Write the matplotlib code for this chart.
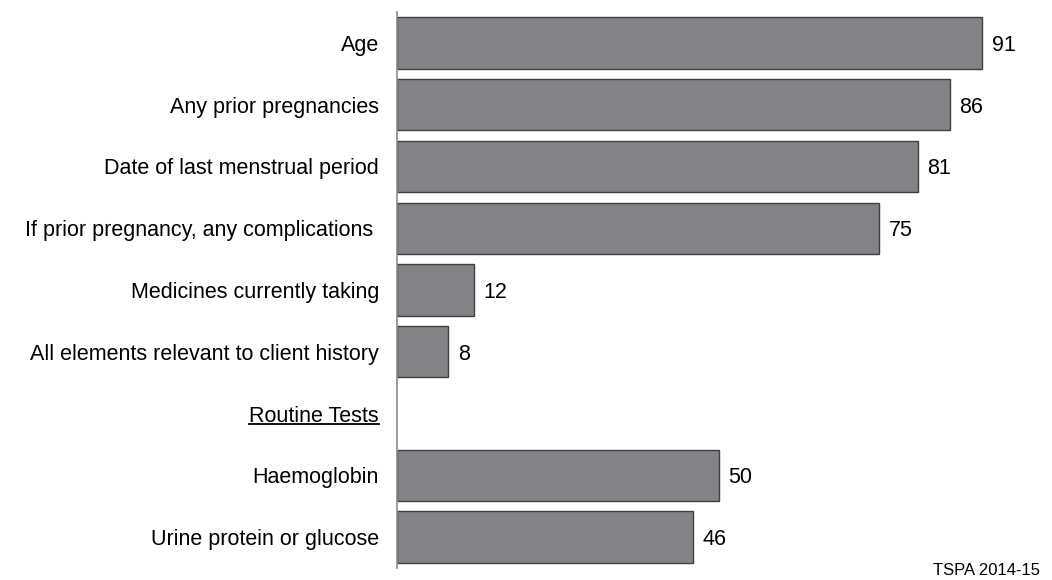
import numpy as np
import matplotlib
matplotlib.use('Agg')
import matplotlib.pyplot as plt
from matplotlib.lines import Line2D

plt.rcParams['font.family'] = ['Liberation Sans', 'DejaVu Sans']

# Data
categories = ['Age', 'Any prior pregnancies', 'Date of last menstrual period',
              'If prior pregnancy, any complications ', 'Medicines currently taking',
              'All elements relevant to client history', 'Routine Tests',
              'Haemoglobin', 'Urine protein or glucose']
values = [91, 86, 81, 75, 12, 8, np.nan, 50, 46]
header_label = 'Routine Tests'
source_text = 'TSPA 2014-15'

fig = plt.figure(figsize=(10.52, 5.8), dpi=100)
ax = fig.add_axes([397 / 1052, 12 / 580, 643 / 1052, 556 / 580])

y = np.arange(len(categories))
vals = np.array(values, dtype=float)
mask = ~np.isnan(vals)
ax.barh(y[mask], vals[mask], height=0.83, color='#838387',
        edgecolor='#3f3f42', linewidth=1.0)

for yi, v in zip(y[mask], vals[mask]):
    ax.text(v + 1.5, yi, f'{v:.0f}', va='center_baseline', ha='left',
            fontsize=15.5, color='black')

ax.set_xlim(0, 100)
ax.set_ylim(len(categories) - 0.5, -0.5)
ax.set_yticks(y)
ax.set_yticklabels(categories, fontsize=15.5)
ax.tick_params(axis='y', length=0, pad=13)
ax.set_xticks([])
for s in ['top', 'right', 'bottom']:
    ax.spines[s].set_visible(False)
ax.spines['left'].set_color('#8c8c8c')
ax.spines['left'].set_linewidth(1.2)

fig.text(1040 / 1052, 2 / 580, source_text, ha='right', va='bottom', fontsize=12)

# underline the section header
fig.canvas.draw()
renderer = fig.canvas.get_renderer()
for lbl in ax.get_yticklabels():
    if lbl.get_text() == header_label:
        bb = lbl.get_window_extent(renderer).transformed(fig.transFigure.inverted())
        yl = bb.y0 + 0.004
        fig.add_artist(Line2D([bb.x0, bb.x1], [yl, yl], transform=fig.transFigure,
                              color='black', linewidth=1.3))

fig.savefig('out.png', dpi=100)
